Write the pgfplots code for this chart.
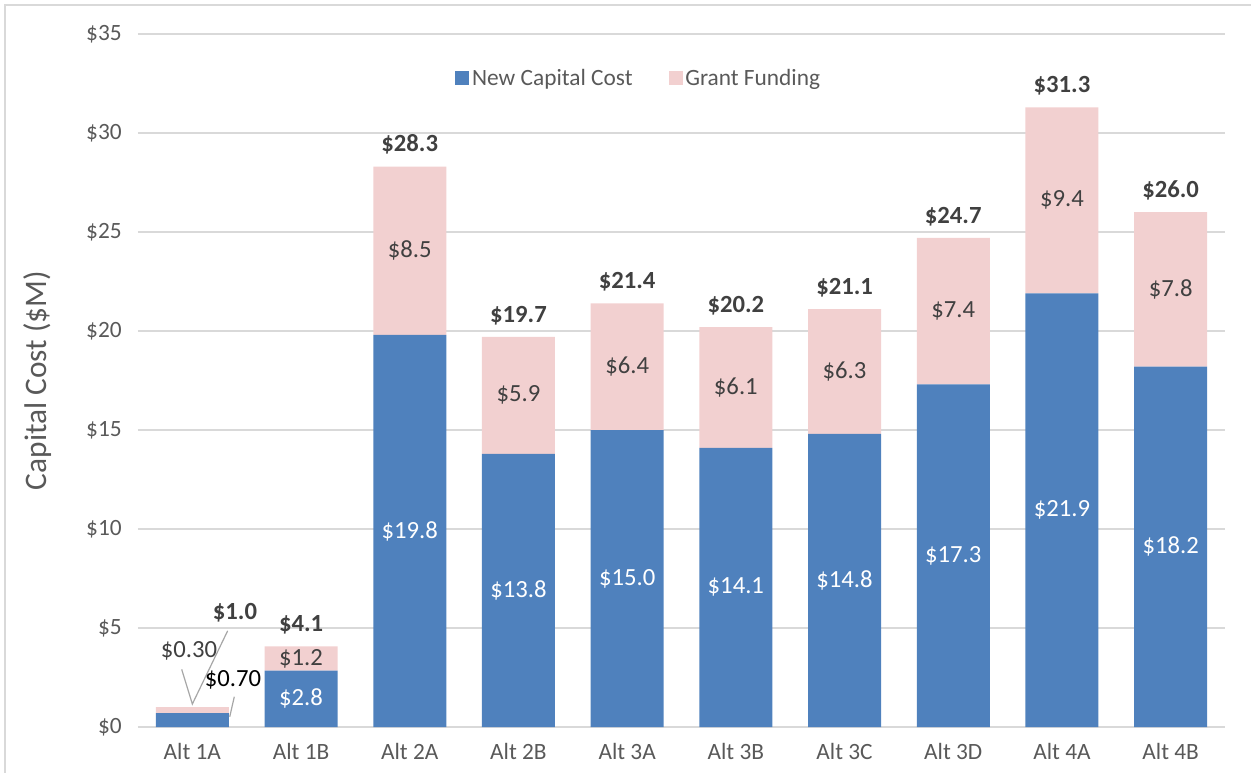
\documentclass[border=0pt]{standalone}
\usepackage{pgfplots}
\pgfplotsset{compat=1.18}
\usepackage{fontspec}
\setmainfont{Carlito}
\definecolor{capblue}{HTML}{4F81BD}
\definecolor{grantpink}{HTML}{F2D0D0}
\definecolor{gridgray}{HTML}{D9D9D9}
\definecolor{txtgray}{HTML}{595959}
\definecolor{lblgray}{HTML}{404040}
\definecolor{leader}{HTML}{A6A6A6}

\pgfplotsset{
  base/.style={
    scale only axis, width=815.25pt, height=519.75pt,
    xmin=-0.5, xmax=9.5, ymin=0, ymax=35,
    at={(0,0)}, anchor=south west,
  },
  lbl/.style={draw=none, mark=none, nodes near coords,
    point meta=explicit symbolic, nodes near coords align={anchor=center},
    every node near coord/.append style={font=\fontsize{18.5}{22}\selectfont}},
}

\begin{document}
\begin{tikzpicture}[font=\fontsize{17.5}{21}\selectfont]
\useasboundingbox (-103.5pt,-33.75pt) rectangle (834.75pt,545.25pt);
\draw[gridgray, line width=1.5pt] (-99.75pt,-40pt) -- (-99.75pt,541.5pt) -- (840pt,541.5pt);

\begin{axis}[base,
  ybar stacked, bar width=54.75pt,
  axis line style={draw=none}, major tick length=0,
  ymajorgrids, grid style={gridgray, line width=0.9pt},
  ytick={0,5,...,35},
  yticklabel={\$\pgfmathprintnumber{\tick}},
  /pgf/number format/assume math mode=true,
  xtick={0,...,9},
  xticklabels={Alt 1A, Alt 1B, Alt 2A, Alt 2B, Alt 3A, Alt 3B, Alt 3C, Alt 3D, Alt 4A, Alt 4B},
  tick label style={text=txtgray},
  xticklabel style={yshift=-9pt},
  yticklabel style={xshift=-8.7pt},
  every axis y label/.style={at={(axis description cs:-0.092,0.5)}, rotate=90, anchor=center,
    text=txtgray, font=\fontsize{23.5}{28}\selectfont},
  ylabel={Capital Cost (\$M)},
  legend style={at={(0.461,0.9365)}, anchor=center, draw=none, fill=none,
    legend columns=2, text=txtgray,
    /tikz/every even column/.append style={column sep=25pt}},
  legend image code/.code={\fill[#1] (0pt,-5.25pt) rectangle (10.5pt,5.25pt);},
]
\addplot[fill=capblue, draw=none] coordinates {
 (0,0.70) (1,2.85) (2,19.8) (3,13.8) (4,15.0) (5,14.1) (6,14.8) (7,17.3) (8,21.9) (9,18.2)};
\addlegendentry{New Capital Cost}
\addplot[fill=grantpink, draw=none] coordinates {
 (0,0.30) (1,1.22) (2,8.5) (3,5.9) (4,6.4) (5,6.1) (6,6.3) (7,7.4) (8,9.4) (9,7.8)};
\addlegendentry{Grant Funding}
\end{axis}

\begin{axis}[base, hide axis, clip=false]
% blue segment labels
\addplot[lbl, every node near coord/.append style={text=white}] coordinates {
 (1,1.425)[\$2.8] (2,9.9)[\$19.8] (3,6.9)[\$13.8] (4,7.5)[\$15.0] (5,7.05)[\$14.1]
 (6,7.4)[\$14.8] (7,8.65)[\$17.3] (8,10.95)[\$21.9] (9,9.1)[\$18.2]};
% grant labels
\addplot[lbl, every node near coord/.append style={text=lblgray}] coordinates {
 (1,3.46)[\$1.2] (2,24.05)[\$8.5] (3,16.75)[\$5.9] (4,18.2)[\$6.4] (5,17.15)[\$6.1]
 (6,17.95)[\$6.3] (7,21.0)[\$7.4] (8,26.6)[\$9.4] (9,22.1)[\$7.8]};
% totals
\addplot[draw=none, mark=none, nodes near coords, point meta=explicit symbolic,
  nodes near coords align={anchor=base},
  every node near coord/.append style={text=lblgray, font=\fontsize{18.5}{22}\selectfont\bfseries, yshift=11pt}]
 coordinates {
 (1,4.07)[\$4.1] (2,28.3)[\$28.3] (3,19.7)[\$19.7] (4,21.4)[\$21.4] (5,20.2)[\$20.2]
 (6,21.1)[\$21.1] (7,24.7)[\$24.7] (8,31.3)[\$31.3] (9,26.0)[\$26.0]};
% Alt 1A callouts
\addplot[leader, line width=0.9pt] coordinates {(-0.098,2.91) (0.0,1.16) (0.325,4.86)};
\addplot[leader, line width=0.9pt] coordinates {(0.386,1.53) (0.344,0.52)};
\addplot[lbl, every node near coord/.append style={text=lblgray}] coordinates {
 (-0.031,3.85)[\$0.30]};
\addplot[lbl, every node near coord/.append style={text=black}] coordinates {
 (0.374,2.37)[\$0.70]};
\addplot[lbl, every node near coord/.append style={text=lblgray, font=\fontsize{18.5}{22}\selectfont\bfseries}] coordinates {
 (0.392,5.76)[\$1.0]};
\end{axis}
\end{tikzpicture}
\end{document}
